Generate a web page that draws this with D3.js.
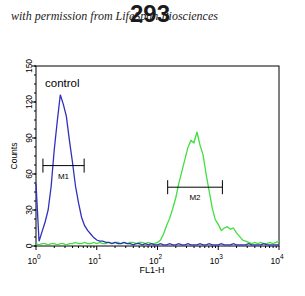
<!DOCTYPE html>
<html>
<head>
<meta charset="utf-8">
<script src="https://cdn.jsdelivr.net/npm/d3@7"></script>
<style>
  body { margin: 0; background: #fff; }
  svg { display: block; }
</style>
</head>
<body>
<svg id="chart" width="305" height="296"></svg>
<script>
// histogram channels, in decades of FL1-H (0 = 10^0 ... 4 = 10^4), step 0.05
const decades = d3.range(0, 81).map(i => i * 0.05);

const controlCounts = [
  52, 4, 12, 20, 30, 50, 80, 104, 126, 118,
  108, 88, 70, 50, 36, 24, 17, 13, 10, 7,
  5, 4, 4, 3, 3, 2, 3, 2, 2, 3,
  2, 2, 1, 2, 2, 1, 2, 1, 2, 1,
  1, 2, 1, 1, 2, 1, 1, 2, 1, 1,
  2, 1, 1, 1, 2, 1, 1, 2, 1, 1,
  1, 2, 1, 1, 1, 2, 1, 1, 1, 1,
  2, 1, 1, 1, 1, 2, 1, 1, 1, 1, 1
];

const sampleCounts = [
  2, 1, 2, 2, 1, 2, 2, 1, 2, 2,
  1, 2, 2, 3, 2, 2, 3, 2, 2, 3,
  2, 3, 2, 2, 3, 2, 3, 3, 2, 3,
  2, 3, 3, 2, 3, 3, 2, 3, 2, 2,
  3, 5, 10, 17, 23, 31, 40, 52, 62, 72,
  82, 88, 86, 95, 84, 76, 60, 46, 32, 22,
  18, 13, 15, 16, 14, 15, 11, 8, 5, 4,
  3, 2, 3, 2, 3, 2, 2, 3, 2, 3, 4
];

const yTicks = [0, 30, 60, 90, 120, 150];
const xTicks = [1, 10, 100, 1000, 10000];

// markers: [label, from, to, height]
const markers = [
  ["M1", 1.3, 6.2, 67],
  ["M2", 147, 1170, 49]
];

const svg = d3.select("#chart");
const margin = { left: 36, right: 26, top: 66, bottom: 50 };
const W = 305, H = 296;
const sans = "'Liberation Sans', Arial, sans-serif";

const x = d3.scaleLog().domain([1, 10000]).range([margin.left, W - margin.right]);
const y = d3.scaleLinear().domain([0, 150]).range([H - margin.bottom, margin.top]);

// watermark and title (title sits on top of the watermark, as in the original)
svg.append("text")
  .attr("x", 11).attr("y", 20)
  .attr("font-family", "'Liberation Serif', serif")
  .attr("font-style", "italic")
  .attr("font-size", 12)
  .attr("fill", "#222")
  .text("with permission from LifeSpan Biosciences");

svg.append("text")
  .attr("x", 150).attr("y", 22)
  .attr("text-anchor", "middle")
  .attr("font-family", sans)
  .attr("font-weight", "bold")
  .attr("font-size", 24)
  .attr("fill", "#1a1a1a")
  .text("293");

// frame
svg.append("rect")
  .attr("x", x(1)).attr("y", y(150))
  .attr("width", x(10000) - x(1))
  .attr("height", y(0) - y(150))
  .attr("fill", "none")
  .attr("stroke", "#000")
  .attr("stroke-width", 1);

// y axis ticks
const yMinor = d3.range(0, 150.1, 7.5);
svg.append("g").selectAll("line").data(yMinor).join("line")
  .attr("x1", x(1) - 2).attr("x2", x(1))
  .attr("y1", d => y(d)).attr("y2", d => y(d))
  .attr("stroke", "#000");
svg.append("g").selectAll("line").data(yTicks).join("line")
  .attr("x1", x(1) - 4).attr("x2", x(1))
  .attr("y1", d => y(d)).attr("y2", d => y(d))
  .attr("stroke", "#000");
svg.append("g").selectAll("text").data(yTicks).join("text")
  .attr("transform", d => `translate(32, ${y(d)}) rotate(-90)`)
  .attr("text-anchor", "middle")
  .attr("font-family", sans)
  .attr("font-size", 8.5)
  .text(d => d);

svg.append("text")
  .attr("transform", `translate(17, ${(y(0) + y(150)) / 2}) rotate(-90)`)
  .attr("text-anchor", "middle")
  .attr("font-family", sans)
  .attr("font-size", 8.5)
  .text("Counts");

// x axis ticks (log minor)
const xMinor = [];
for (let p = 1; p <= 1000; p *= 10) for (let k = 2; k <= 9; k++) xMinor.push(p * k);
svg.append("g").selectAll("line").data(xMinor).join("line")
  .attr("x1", d => x(d)).attr("x2", d => x(d))
  .attr("y1", y(0)).attr("y2", y(0) + 2)
  .attr("stroke", "#000");
svg.append("g").selectAll("line").data(xTicks).join("line")
  .attr("x1", d => x(d)).attr("x2", d => x(d))
  .attr("y1", y(0)).attr("y2", y(0) + 4)
  .attr("stroke", "#000");
const xl = svg.append("g").selectAll("text").data(xTicks).join("text")
  .attr("x", d => x(d) - 2).attr("y", 264)
  .attr("text-anchor", "middle")
  .attr("font-family", sans)
  .attr("font-size", 8.5);
xl.append("tspan").text("10");
xl.append("tspan").attr("dy", -5).attr("font-size", 6.5).text(d => Math.round(Math.log10(d)));

svg.append("text")
  .attr("x", 152).attr("y", 273)
  .attr("text-anchor", "middle")
  .attr("font-family", sans)
  .attr("font-size", 9)
  .text("FL1-H");

// histograms
const line = d3.line()
  .x(d => x(Math.pow(10, d[0])))
  .y(d => y(d[1]));

svg.append("path")
  .datum(decades.map((d, i) => [d, sampleCounts[i]]))
  .attr("d", line)
  .attr("fill", "none")
  .attr("stroke", "#3fe03f")
  .attr("stroke-width", 1.3);

svg.append("path")
  .datum(decades.map((d, i) => [d, controlCounts[i]]))
  .attr("d", line)
  .attr("fill", "none")
  .attr("stroke", "#3030bc")
  .attr("stroke-width", 1.3);

svg.append("text")
  .attr("x", 45).attr("y", 87)
  .attr("font-family", sans)
  .attr("font-size", 11.5)
  .text("control");

// gate markers
markers.forEach(([label, a, b, h]) => {
  const g = svg.append("g").attr("stroke", "#000").attr("stroke-width", 1);
  g.append("line").attr("x1", x(a)).attr("x2", x(b)).attr("y1", y(h)).attr("y2", y(h));
  g.append("line").attr("x1", x(a)).attr("x2", x(a)).attr("y1", y(h) - 7).attr("y2", y(h) + 7);
  g.append("line").attr("x1", x(b)).attr("x2", x(b)).attr("y1", y(h) - 7).attr("y2", y(h) + 7);
  svg.append("text")
    .attr("x", (x(a) + x(b)) / 2).attr("y", y(h) + 13)
    .attr("text-anchor", "middle")
    .attr("font-family", sans)
    .attr("font-size", 8)
    .text(label);
});
</script>
</body>
</html>
